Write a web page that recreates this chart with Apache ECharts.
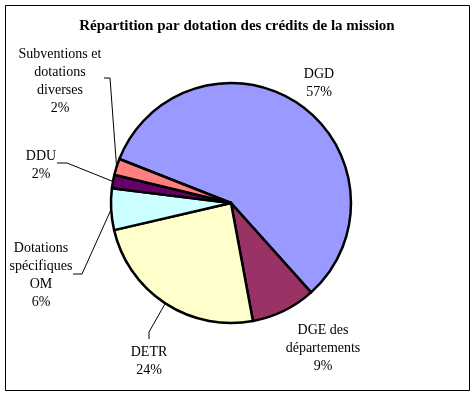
<!DOCTYPE html>
<html>
<head>
<meta charset="utf-8">
<script src="https://cdn.jsdelivr.net/npm/echarts@6/dist/echarts.min.js"></script>
<style>
html,body{margin:0;padding:0;background:#fff;}
#chart{width:473px;height:394px;}
</style>
</head>
<body>
<div id="chart"></div>
<script>
// Data
var title = 'Répartition par dotation des crédits de la mission';
var categories = ['DGD', 'DGE des\ndépartements', 'DETR', 'Dotations\nspécifiques\nOM', 'DDU', 'Subventions et\ndotations\ndiverses'];
var values = [57.4, 8.7, 24.3, 5.6, 1.8, 2.2];
var colors = ['#9999FF', '#993366', '#FFFFCC', '#CCFFFF', '#660066', '#FF8080'];

// Label layout (positions of label centres and leader-line elbows)
var labelPos = [
  {x: 319, y: 83},
  {x: 323, y: 348},
  {x: 149, y: 361},
  {x: 41, y: 275},
  {x: 41, y: 165},
  {x: 60, y: 81}
];
var leader = [
  null,
  null,
  [[149, 332], [149, 339]],
  [[82, 274], [73, 274]],
  [[67, 163], [57, 163]],
  [[110, 78], [104, 78]]
];

var chart = echarts.init(document.getElementById('chart'), null, {renderer: 'canvas'});

var seriesData = categories.map(function (c, i) {
  return {
    name: c,
    value: values[i],
    itemStyle: {color: colors[i]},
    labelLine: {show: leader[i] !== null}
  };
});

chart.setOption({
  animation: false,
  backgroundColor: '#ffffff',
  title: {
    text: title,
    left: 237,
    top: 19,
    padding: 0,
    textAlign: 'center',
    textStyle: {fontFamily: 'Liberation Serif', fontSize: 15, fontWeight: 'bold', color: '#000'}
  },
  graphic: [{
    type: 'rect',
    shape: {x: 5.5, y: 5.5, width: 464, height: 385},
    style: {fill: 'none', stroke: '#000', lineWidth: 1},
    silent: true
  }],
  series: [{
    type: 'pie',
    center: [231, 203],
    radius: [0, 120],
    startAngle: 158.5,
    clockwise: true,
    avoidLabelOverlap: false,
    itemStyle: {borderColor: '#000', borderWidth: 2.5},
    label: {
      show: true,
      position: 'outside',
      fontFamily: 'Liberation Serif',
      fontSize: 14,
      lineHeight: 18,
      color: '#000',
      align: 'center',
      formatter: function (p) { return p.name + '\n' + Math.round(p.percent) + '%'; }
    },
    labelLine: {show: true, lineStyle: {color: '#000', width: 1}, length: 10, length2: 10},
    labelLayout: function (params) {
      var i = params.dataIndex;
      var res = {x: labelPos[i].x, y: labelPos[i].y, align: 'center', verticalAlign: 'middle'};
      if (leader[i] && params.labelLinePoints) {
        res.labelLinePoints = [params.labelLinePoints[0], leader[i][0], leader[i][1]];
      }
      return res;
    },
    emphasis: {disabled: true},
    data: seriesData
  }]
});
</script>
</body>
</html>
